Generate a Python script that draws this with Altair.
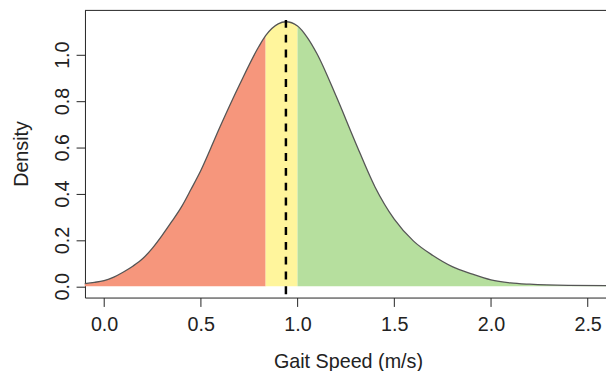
import altair as alt
import pandas as pd

# Density curve
speed = [-0.10, -0.05, 0.00, 0.05, 0.10, 0.15, 0.20, 0.25, 0.30, 0.35, 0.40, 0.45,
         0.50, 0.60, 0.70, 0.80, 0.835, 0.90, 0.94, 1.00, 1.05, 1.10, 1.20, 1.30,
         1.40, 1.50, 1.60, 1.70, 1.80, 1.90, 2.00, 2.10, 2.20, 2.40, 2.60]
density = [0.012, 0.017, 0.025, 0.040, 0.062, 0.088, 0.12, 0.165, 0.22, 0.28, 0.343, 0.42,
           0.50, 0.69, 0.87, 1.035, 1.082, 1.133, 1.142, 1.124, 1.075, 1.005, 0.82, 0.62,
           0.43, 0.29, 0.195, 0.133, 0.085, 0.054, 0.028, 0.015, 0.009, 0.004, 0.003]

zone_names = ["low", "mid", "high"]
zone_cuts = [0.835, 1.00]
zone_colors = ["#F6967C", "#FFF59C", "#B6DF9E"]
mean_speed = 0.94
mean_top = 1.15
x_ticks = [0.0, 0.5, 1.0, 1.5, 2.0, 2.5]
y_ticks = [0.0, 0.2, 0.4, 0.6, 0.8, 1.0]

rows = []
for x, d in zip(speed, density):
    if x <= zone_cuts[0]:
        rows.append({"x": x, "d": d, "zone": "low"})
    if zone_cuts[0] <= x <= zone_cuts[1]:
        rows.append({"x": x, "d": d, "zone": "mid"})
    if x >= zone_cuts[1]:
        rows.append({"x": x, "d": d, "zone": "high"})
area_df = pd.DataFrame(rows)
line_df = pd.DataFrame({"x": speed, "d": density})

W, H = 528, 291
FONT = "Liberation Sans"
Y_MIN, Y_MAX = -0.0485, 1.191

xscale = alt.Scale(domain=[-0.099, 2.595], nice=False, zero=False)
yscale = alt.Scale(domain=[Y_MIN, Y_MAX], nice=False, zero=False)

xaxis = alt.Axis(values=x_ticks, format=".1f", title="Gait Speed (m/s)", grid=False,
                 tickSize=9, labelPadding=24, labelBaseline="alphabetic",
                 labelFontSize=20, titleFontSize=20, labelFont=FONT, titleFont=FONT,
                 titleFontWeight="normal", titleX=266.5, titleY=71,
                 titleBaseline="alphabetic", titleAlign="center",
                 domainColor="#222", tickColor="#222", labelColor="#222", titleColor="#222",
                 labelFlush=False, labelOverlap=False)
yaxis = alt.Axis(values=y_ticks, format=".1f", title="Density", grid=False,
                 tickSize=9, labelPadding=8, labelAngle=270, labelAlign="center",
                 labelBaseline="alphabetic",
                 labelFontSize=20, titleFontSize=20, labelFont=FONT, titleFont=FONT,
                 titleFontWeight="normal", titleAngle=270, titleX=-58, titleY=145,
                 titleBaseline="alphabetic", titleAlign="center",
                 domainColor="#222", tickColor="#222", labelColor="#222", titleColor="#222",
                 labelFlush=False, labelOverlap=False)

areas = alt.Chart(area_df).mark_area(interpolate="monotone", opacity=1).encode(
    x=alt.X("x:Q", scale=xscale, axis=xaxis),
    y=alt.Y("d:Q", scale=yscale, axis=yaxis, stack=None),
    color=alt.Color("zone:N", scale=alt.Scale(domain=zone_names, range=zone_colors), legend=None),
    detail="zone:N",
)

outline = alt.Chart(line_df).mark_line(interpolate="monotone", color="#555555", strokeWidth=1.3).encode(
    x=alt.X("x:Q", scale=xscale),
    y=alt.Y("d:Q", scale=yscale),
)

mean_df = pd.DataFrame({"x": [mean_speed], "top": [mean_top], "bottom": [Y_MIN]})
mean_rule = alt.Chart(mean_df).mark_rule(color="black", strokeWidth=2.5, strokeDash=[8, 7]).encode(
    x=alt.X("x:Q", scale=xscale),
    y=alt.Y("top:Q", scale=yscale),
    y2="bottom:Q",
)

top_border = alt.Chart(mean_df).mark_rule(color="#222", strokeWidth=1).encode(
    x=alt.value(0), x2=alt.value(W), y=alt.value(0)
)

chart = alt.layer(areas, outline, mean_rule, top_border).properties(
    width=W, height=H,
    autosize=alt.AutoSizeParams(type="none"),
    padding={"left": 78, "top": 0, "right": 0, "bottom": 72},
).configure_view(stroke=None)

chart.save("out.html", embed_options={"renderer": "svg", "actions": False})
